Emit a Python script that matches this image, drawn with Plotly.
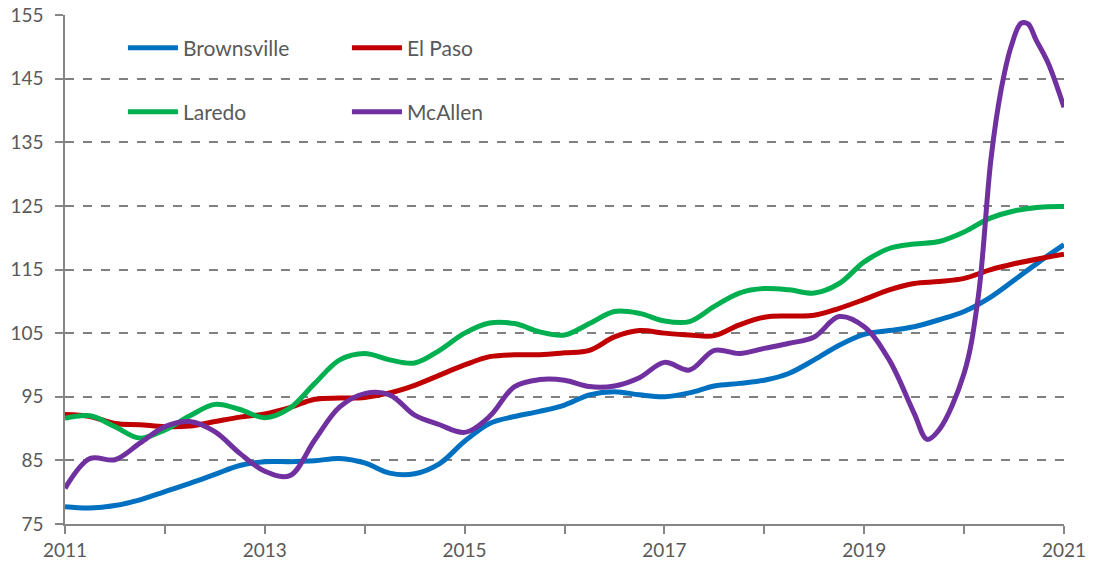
import plotly.graph_objects as go

quarters = [2011 + 0.25 * i for i in range(41)]

brownsville = [77.7, 77.5, 77.9, 78.8, 80.1, 81.4, 82.8, 84.2, 84.8, 84.8, 84.95, 85.3,
               84.6, 83.0, 82.9, 84.5, 88.0, 90.8, 91.9, 92.7, 93.7, 95.3, 95.8, 95.3,
               95.0, 95.6, 96.7, 97.1, 97.6, 98.7, 100.8, 103.1, 104.8, 105.4, 106.0, 107.1,
               108.4, 110.5, 113.3, 116.2, 118.9]
el_paso = [92.2, 91.9, 90.8, 90.6, 90.3, 90.4, 91.1, 91.8, 92.3, 93.3, 94.6, 94.8,
           94.9, 95.6, 96.8, 98.4, 100.0, 101.3, 101.6, 101.6, 101.9, 102.3, 104.4, 105.4,
           105.0, 104.7, 104.6, 106.3, 107.5, 107.7, 107.8, 108.9, 110.3, 111.8, 112.8, 113.1,
           113.6, 114.9, 115.9, 116.7, 117.4]
laredo = [91.6, 92.0, 90.3, 88.5, 89.8, 92.0, 93.8, 93.0, 91.7, 93.2, 97.1, 100.8,
          101.8, 100.8, 100.3, 102.3, 105.0, 106.6, 106.5, 105.2, 104.7, 106.5, 108.4, 108.1,
          106.9, 106.8, 109.2, 111.3, 112.0, 111.8, 111.3, 112.8, 116.2, 118.3, 119.0, 119.4,
          120.9, 123.0, 124.2, 124.8, 124.9]

mcallen_x = quarters[:35] + [2019.63, 2019.75, 2020.0, 2020.14, 2020.27, 2020.37, 2020.47,
                             2020.57, 2020.64, 2020.72, 2020.84, 2021.0]
mcallen = [80.6, 85.3, 85.1, 87.7, 90.3, 91.1, 89.5, 86.1, 83.3, 82.6, 88.2, 93.4,
           95.5, 95.3, 92.1, 90.6, 89.4, 91.9, 96.6, 97.7, 97.6, 96.6, 96.7, 98.0,
           100.4, 99.2, 102.3, 101.8, 102.6, 103.4, 104.4, 107.6, 106.0, 100.8, 92.4,
           88.3, 89.8, 98.7, 110.5, 132.5, 143.2, 150.0, 153.7, 153.6, 151.1, 147.5, 140.5]

x_ticks = list(range(2011, 2022))
x_labels = [str(y) if (y - 2011) % 2 == 0 else "" for y in x_ticks]
y_ticks = list(range(75, 156, 10))

series = [
    ("Brownsville", quarters, brownsville, "#0070C0", "legend"),
    ("El Paso", quarters, el_paso, "#C00000", "legend"),
    ("Laredo", quarters, laredo, "#00B050", "legend2"),
    ("McAllen", mcallen_x, mcallen, "#7030A0", "legend2"),
]

fig = go.Figure()
for name, xs, ys, color, lg in series:
    fig.add_trace(go.Scatter(x=xs, y=ys, name=name, mode="lines",
                             line=dict(color=color, width=5, shape="spline", smoothing=1.0),
                             legend=lg))

font = dict(family="Lato, 'Open Sans', sans-serif", size=19, color="#595959")
legend_font = dict(family="Lato, 'Open Sans', sans-serif", size=21, color="#595959")
legend_common = dict(orientation="h", xanchor="left", yanchor="middle",
                     bgcolor="rgba(0,0,0,0)", font=legend_font, entrywidth=159, itemwidth=50,
                     tracegroupgap=0)

fig.update_layout(
    width=1094, height=568,
    margin=dict(l=65, r=30, t=15, b=44, autoexpand=False),
    plot_bgcolor="white", paper_bgcolor="white",
    font=font,
    legend=dict(x=0.058, y=0.935, **legend_common),
    legend2=dict(x=0.058, y=0.809, **legend_common),
    xaxis=dict(range=[2011, 2021], tickvals=x_ticks, ticktext=x_labels,
               ticks="outside", ticklen=8, tickcolor="#868686", tickwidth=1.5,
               showline=True, linecolor="#868686", linewidth=1.5, automargin=False,
               ticklabeloverflow="allow",
               showgrid=False, zeroline=False, tickfont=font),
    yaxis=dict(range=[75, 155], tickvals=y_ticks,
               ticks="outside", ticklen=8, tickcolor="#868686", tickwidth=1.5,
               showline=True, linecolor="#868686", linewidth=1.5, automargin=False,
               ticklabelstandoff=8, ticklabeloverflow="allow",
               showgrid=True, gridcolor="#808080", gridwidth=1.5, griddash="dash",
               zeroline=False, tickfont=font),
)

fig.write_html("out.html", config={"displayModeBar": False},
               post_script="document.body.style.margin='0';")
